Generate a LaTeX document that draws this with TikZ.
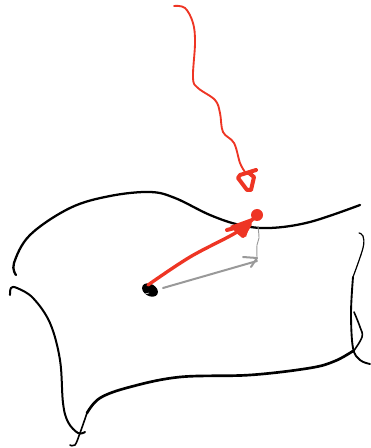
\documentclass[tikz,border=0pt]{standalone}
\definecolor{penred}{HTML}{EE3524}
\definecolor{pengray}{HTML}{999999}
\tikzset{
  ink/.style={line cap=round,line join=round,smooth,tension=0.6},
  inkline/.style={draw=black,line cap=round,line join=round},
  redline/.style={draw=penred,line cap=round,line join=round},
  grayline/.style={draw=pengray,line cap=round,line join=round},
}
\begin{document}
\begin{tikzpicture}[x=0.75pt,y=-0.75pt]
\useasboundingbox (0,0) rectangle (370,448);
% top edge
\draw[inkline,line width=1.7pt] plot[smooth,tension=0.6] coordinates {(16,275) (14,263) (30,235) (70,208) (110,196) (150,192) (175,198) (210,215) (240,225) (270,228) (310,222) (360,205)};
% left edge
\draw[inkline,line width=1.5pt] plot[smooth,tension=0.6] coordinates {(10,295) (11,288) (17,288) (33,298) (50,323) (60,360) (63,403) (68,422) (78,433) (85,432)};
% bottom edge
\draw[inkline,line width=1.2pt] plot[smooth,tension=0.6] coordinates {(70,445) (75,445) (80,433) (87,413)};
\draw[inkline,line width=2pt] plot[smooth,tension=0.6] coordinates {(87,413) (100,398) (130,387) (180,377) (250,375) (310,368) (335,361) (353,351)};
% right edge
\draw[inkline,line width=0.9pt] plot[smooth,tension=0.6] coordinates {(359,233) (363,236) (363,248) (353,277)};
\draw[inkline,line width=1.4pt] plot[smooth,tension=0.6] coordinates {(353,277) (351,313) (353,348) (360,360) (370,364)};
\draw[inkline,line width=1.2pt] plot[smooth,tension=0.6] coordinates {(354,312) (360,327) (362,337) (353,352)};
% dot
\fill[black,rotate around={-30:(150,290)}] (150,290) ellipse (8.5 and 6);
\draw[white,line width=0.4pt] (145,294) -- (149,293);
% gray vector
\draw[grayline,line width=1.5pt] (163,288) -- (257,261);
\draw[grayline,line width=1.5pt] (243,257) -- (257,258) -- (251,267);
\draw[grayline,line width=0.7pt] plot[smooth,tension=0.6] coordinates {(258,227) (259,238) (257,245) (257,257)};
% red vector
\draw[redline,line width=2.5pt] plot[smooth,tension=0.6] coordinates {(148,285) (190,257) (237,232) (256,216)};
\fill[penred] (257,215) circle (6);
\draw[redline,line width=3pt] (227,230) -- (250,224) -- (243,236) -- (236,230);
\fill[penred] (230,226) -- (252,218) -- (246,237) -- cycle;
% red squiggle
\draw[redline,line width=1.4pt] plot[smooth,tension=0.6] coordinates {(174,6) (185,8) (193,23) (195,43) (193,78) (198,88) (215,100) (220,113) (223,132) (234,143) (240,163) (245,172)};
\draw[redline,line width=3pt] (256,170) -- (240,175) -- (238,178) -- (247,190) -- (251,190) -- (254,177) -- (249,173);
\end{tikzpicture}
\end{document}
